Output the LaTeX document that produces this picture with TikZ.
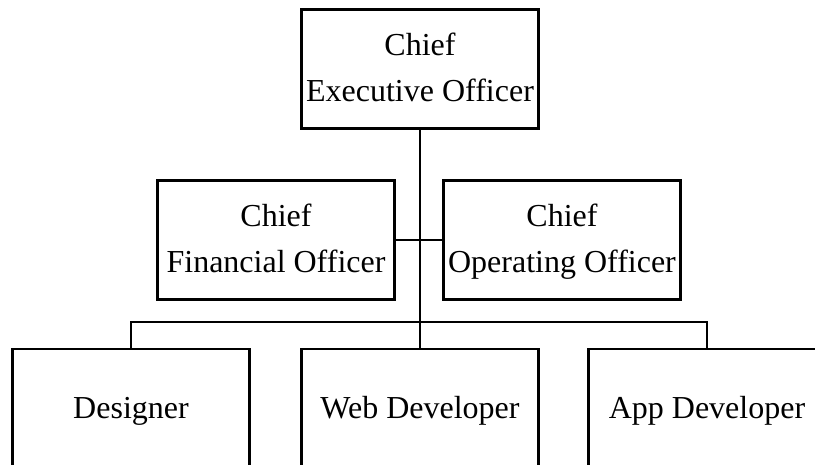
\documentclass[tikz,border=0pt]{standalone}
\usepackage{fontspec}
\setmainfont{Liberation Serif}
\begin{document}
\begin{tikzpicture}[x=1pt,y=-1pt,
  box/.style={draw=black, line width=2.8pt, fill=white, inner sep=0pt, outer sep=0pt,
    minimum width=237pt, minimum height=119pt, align=center,
    font=\fontsize{32}{46}\selectfont},
  link/.style={draw=black, line width=2.8pt}]
\useasboundingbox (0,0) rectangle (815,465);
\clip (0,0) rectangle (815,465);
\node[box] (ceo) at (420,69) {\strut Chief\\\strut Executive Officer};
\node[box] (cfo) at (276,240) {\strut Chief\\\strut Financial Officer};
\node[box] (coo) at (562,240) {\strut Chief\\\strut Operating Officer};
\node[box, minimum height=120pt] (des) at (131,409) {\strut Designer};
\node[box, minimum height=120pt] (web) at (420,409) {\strut Web Developer};
\node[box, minimum height=120pt] (app) at (707,409) {\strut App Developer};
\coordinate (bus) at (420,322);
\draw[link] (ceo.south) -- (web.north);
\draw[link] (cfo.east) -- (coo.west);
\draw[link] (des.north) |- (bus) -| (app.north);
\end{tikzpicture}
\end{document}
